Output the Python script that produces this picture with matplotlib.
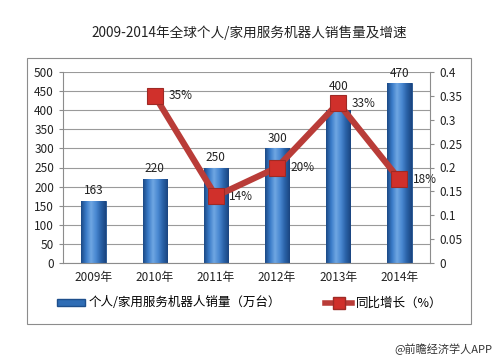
import numpy as np
import matplotlib
matplotlib.use("Agg")
import matplotlib.pyplot as plt
from matplotlib.colors import LinearSegmentedColormap
from matplotlib.lines import Line2D
from matplotlib.patches import Rectangle

plt.rcParams["font.family"] = ["Noto Sans CJK SC", "DejaVu Sans"]

years = ["2009年", "2010年", "2011年", "2012年", "2013年", "2014年"]
sales = [163, 220, 250, 300, 400, 470]
growth_years = ["2010年", "2011年", "2012年", "2013年", "2014年"]
growth = [0.35, 0.14, 0.20, 0.335, 0.175]
growth_labels = ["35%", "14%", "20%", "33%", "18%"]

title = "2009-2014年全球个人/家用服务机器人销售量及增速"
bar_name = "个人/家用服务机器人销量（万台）"
line_name = "同比增长（%）"
source = "@前瞻经济学人APP"

fig = plt.figure(figsize=(5, 3.6), dpi=100, facecolor="white")
fig.patches.append(Rectangle((27 / 500, 1 - 324 / 360), 444 / 500, 266 / 360,
                             transform=fig.transFigure, fill=False,
                             edgecolor="#8C8C8C", linewidth=0.8))
fig.text(0.498, 1 - 33 / 360, title, ha="center", va="center", fontsize=9.8, color="#222222")

ax = fig.add_axes([0.126, 1 - 263 / 360, 0.734, 191 / 360])
ax2 = ax.twinx()

x = np.arange(len(years))
width = 0.4
bars = ax.bar(x, sales, width, color="#2F6DB5", edgecolor="#1E4F8C", linewidth=0.6, zorder=2)

# horizontal shading on each bar (dark edges, light left-centre)
cmap = LinearSegmentedColormap.from_list(
    "barshade", ["#1B4A86", "#3A7BC8", "#6FA6E2", "#4A89D2", "#2A62A8", "#1A4580"])
grad = np.linspace(0, 1, 64).reshape(1, -1)
for bar in bars:
    bx, bw, bh = bar.get_x(), bar.get_width(), bar.get_height()
    im = ax.imshow(grad, extent=[bx, bx + bw, 0, bh], aspect="auto", cmap=cmap,
                   origin="lower", zorder=2.5)
    im.set_clip_path(bar)

ax.set_xlim(-0.5, len(years) - 0.5)
ax.set_ylim(0, 500)
ax.set_yticks(range(0, 501, 50))
ax.set_xticks(x)
ax.set_xticklabels(years)
ax.grid(axis="y", color="#9A9A9A", linewidth=0.8, zorder=0)
ax.set_axisbelow(True)
ax.tick_params(axis="both", labelsize=8.5, colors="#222222", length=3, color="#8C8C8C")
ax.tick_params(axis="x", length=0, pad=6)
for s in ["top", "right"]:
    ax.spines[s].set_visible(False)
ax.spines["left"].set_color("#8C8C8C")
ax.spines["bottom"].set_color("#8C8C8C")

gx = [years.index(y) for y in growth_years]
ax2.plot(gx, growth, color="#B93C38", linewidth=4.5, marker="s", markersize=12,
         markerfacecolor="#D0302B", markeredgecolor="#9E2A25", markeredgewidth=0.8,
         solid_joinstyle="miter", zorder=4)
for xi, v, lab in zip(gx, growth, growth_labels):
    ax2.text(xi + 0.22, v, lab, ha="left", va="center", fontsize=8.5, color="#222222")
ax2.set_ylim(0, 0.4)
ax2.set_yticks(np.arange(0, 0.41, 0.05))
ax2.set_yticklabels(["0", "0.05", "0.1", "0.15", "0.2", "0.25", "0.3", "0.35", "0.4"])
ax2.tick_params(axis="y", labelsize=8.5, colors="#222222", length=3, color="#8C8C8C")
for s in ["top", "left", "bottom"]:
    ax2.spines[s].set_visible(False)
ax2.spines["right"].set_color("#8C8C8C")

# bar value labels, lifted above a growth marker when it sits on the bar top
scale = 500 / 0.4
marker_top = {xi: g * scale + 16 for xi, g in zip(gx, growth)}
for xi, v in zip(x, sales):
    base = v
    mt = marker_top.get(xi)
    if mt is not None and abs(mt - 16 - v) < 30:
        base = max(v, mt)
    ax2.text(xi, base + 10, str(v), transform=ax.transData, ha="center", va="bottom",
             fontsize=8.5, color="#222222", zorder=6)

handles = [
    Rectangle((0, 0), 1, 1, facecolor="#2F6DB5", edgecolor="#1E4F8C"),
    Line2D([], [], color="#B93C38", linewidth=4, marker="s", markersize=8,
           markerfacecolor="#D0302B", markeredgecolor="#9E2A25"),
]
fig.legend(handles, [bar_name, line_name], loc="center", bbox_to_anchor=(0.5, 1 - 303 / 360),
           ncol=2, frameon=False, fontsize=9, handlelength=2.2, handleheight=0.5,
           columnspacing=3.5, handletextpad=0.3)

fig.text(0.985, 1 - 349 / 360, source, ha="right", va="center", fontsize=8, color="#333333")

fig.savefig("out.png", dpi=100)
